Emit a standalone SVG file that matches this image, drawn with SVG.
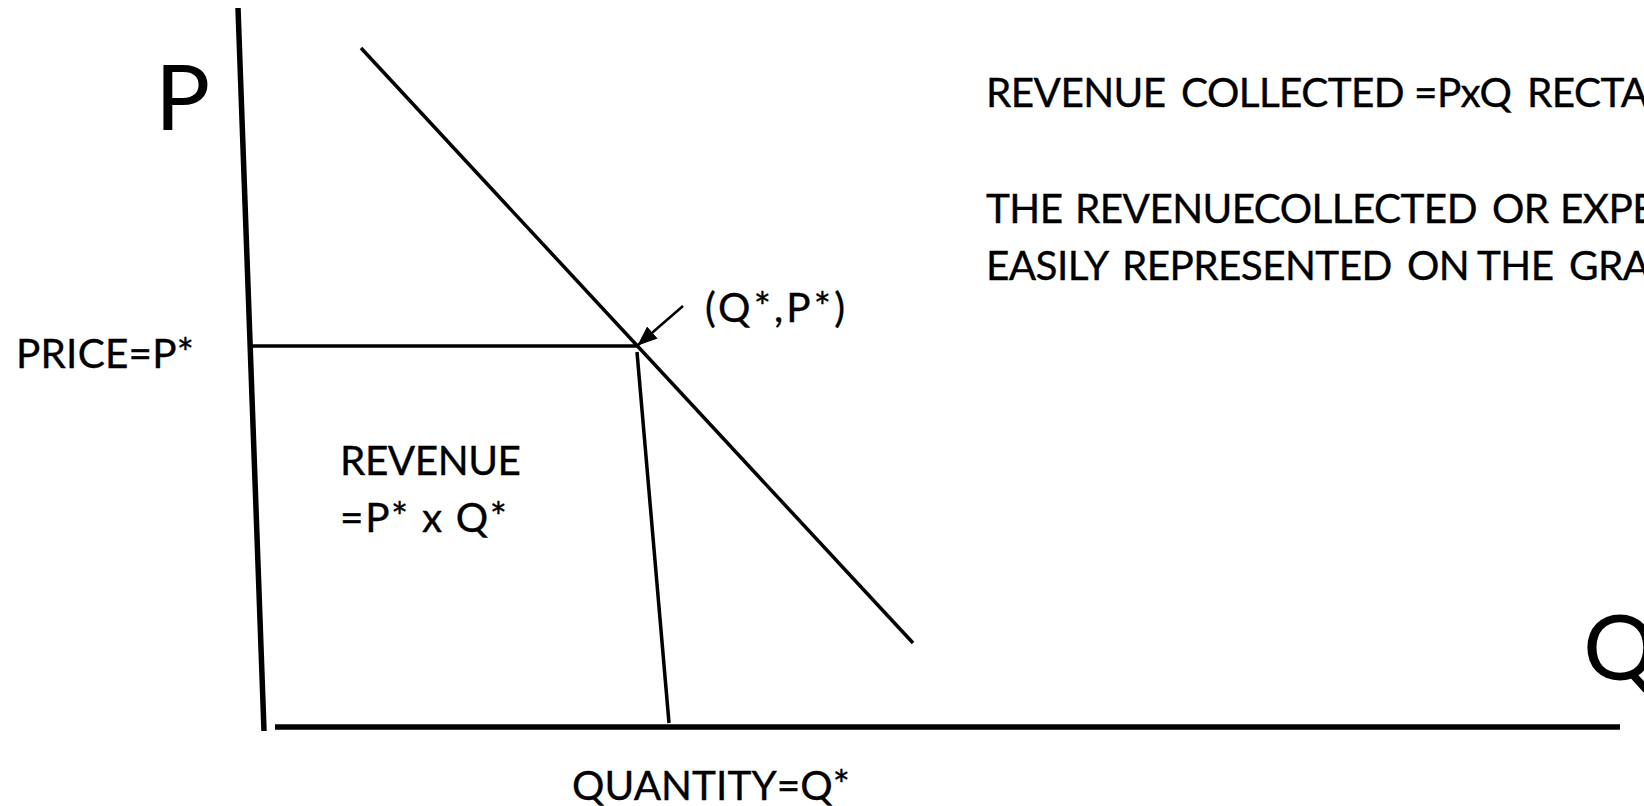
<svg xmlns="http://www.w3.org/2000/svg" width="1644" height="806" viewBox="0 0 1644 806">
  <style>
    .lbl { font-family: Lato, "Open Sans", "Liberation Sans", sans-serif; font-size: 40.5px; fill: #000; stroke: #000; stroke-width: 0.35; }
    .note { letter-spacing: -0.6px; }
    .axisname { font-family: Lato, "Open Sans", "Liberation Sans", sans-serif; font-size: 92px; fill: #000; }
    .axis { stroke: #000; stroke-width: 5.5; fill: none; stroke-linecap: butt; }
    .line { stroke: #000; stroke-width: 3.5; fill: none; }
    .pointer { stroke: #000; stroke-width: 2.5; fill: none; }
  </style>
  <defs>
    <marker id="arrowhead" markerUnits="userSpaceOnUse" markerWidth="20" markerHeight="16" refX="19" refY="8" orient="auto">
      <path d="M0,0 L20,8 L0,16 Z" fill="#000"/>
    </marker>
  </defs>

  <rect width="1644" height="806" fill="#fff"/>

  <!-- axes, demand curve and revenue rectangle -->
  <g id="connectors">
    <line id="price-axis" class="axis" x1="238" y1="8" x2="264" y2="731"/>
    <line id="quantity-axis" class="axis" x1="275" y1="727" x2="1620" y2="727"/>
    <line id="demand" class="line" x1="361" y1="48" x2="913" y2="643"/>
    <line id="price-level" class="line" stroke-width="4" x1="252" y1="346" x2="638" y2="346"/>
    <line id="quantity-level" class="line" x1="637" y1="352" x2="669" y2="723"/>
    <line id="equilibrium-pointer" class="pointer" x1="683" y1="306" x2="638" y2="345" marker-end="url(#arrowhead)"/>
  </g>

  <g id="axis-label-p">
    <text class="axisname" x="155" y="130">P</text>
  </g>
  <g id="axis-label-q">
    <text class="axisname" x="1583" y="680">Q</text>
  </g>

  <g id="price-label">
    <text class="lbl" x="16" y="368" textLength="178">PRICE=P*</text>
  </g>
  <g id="quantity-label">
    <text class="lbl" x="572" y="800" textLength="278">QUANTITY=Q*</text>
  </g>
  <g id="equilibrium-label">
    <text class="lbl" x="705" y="322" textLength="140">(Q*,P*)</text>
  </g>
  <g id="revenue-area-label">
    <text class="lbl" x="340" y="475" textLength="181">REVENUE</text>
    <text class="lbl" x="340" y="532" textLength="167">=P* x Q*</text>
  </g>

  <g id="notes">
    <text class="lbl note" y="107"><tspan x="986">REVENUE </tspan><tspan x="1181">COLLECTED </tspan><tspan x="1414">=PxQ </tspan><tspan x="1527">RECTA</tspan></text>
    <text class="lbl note" y="223"><tspan x="986">THE </tspan><tspan x="1075">REVENUECOLLECTED </tspan><tspan x="1492">OR </tspan><tspan x="1560">EXPE</tspan></text>
    <text class="lbl note" y="280"><tspan x="986">EASILY </tspan><tspan x="1122">REPRESENTED </tspan><tspan x="1407">ON </tspan><tspan x="1477">THE </tspan><tspan x="1569">GRA</tspan></text>
  </g>
</svg>
